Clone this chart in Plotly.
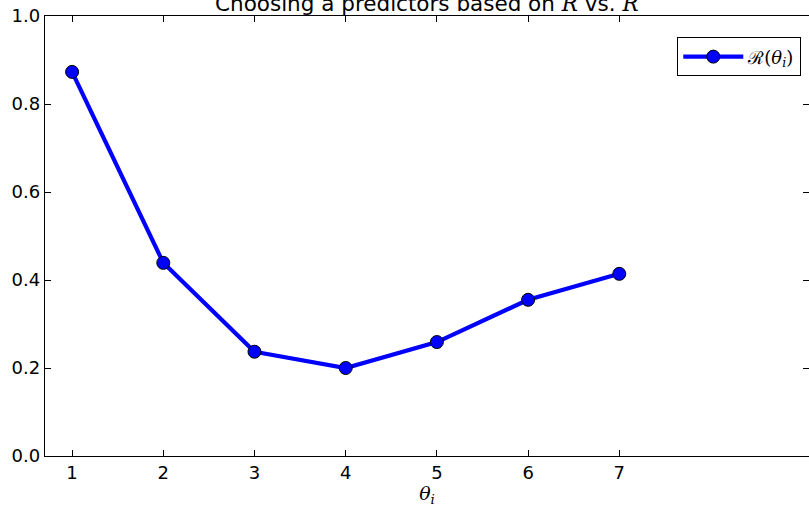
import plotly.graph_objects as go

theta_idx = [1, 2, 3, 4, 5, 6, 7]
risk_values = [0.873, 0.439, 0.237, 0.200, 0.259, 0.355, 0.414]
x_ticks = [1, 2, 3, 4, 5, 6, 7]
y_ticks = [0.0, 0.2, 0.4, 0.6, 0.8, 1.0]

W, H = 809, 507
L, R, T, B = 45, 0, 16, 51

fig = go.Figure()
fig.add_trace(go.Scatter(
    x=theta_idx, y=risk_values, mode="lines+markers",
    name="ℛ(<i>θ</i><sub><i>i</i></sub>)",
    line=dict(color="#0000ff", width=4.2),
    marker=dict(size=13, color="#0000ff", line=dict(color="black", width=1)),
))
# invisible trace to carry the right-side y ticks
fig.add_trace(go.Scatter(x=[theta_idx[0]], y=[risk_values[0]], yaxis="y2",
                         mode="markers", marker=dict(opacity=0),
                         showlegend=False, hoverinfo="skip"))

axis_font = dict(family="DejaVu Sans", size=18, color="black")
fig.update_layout(
    width=W, height=H,
    margin=dict(l=L, r=R, t=T, b=B),
    plot_bgcolor="white", paper_bgcolor="white",
    showlegend=True,
    legend=dict(x=0.9895, y=0.952, xanchor="right", yanchor="top",
                bgcolor="white", bordercolor="black", borderwidth=1.3,
                itemwidth=60,
                font=dict(family="DejaVu Serif", size=18, color="black")),
    xaxis=dict(range=[0.703, 9.08], tickvals=x_ticks, ticks="inside", ticklen=6,
               tickcolor="black", showline=True, linecolor="black", linewidth=1.3,
               mirror="ticks", showgrid=False, zeroline=False, tickfont=axis_font,
               title=dict(text="<i>θ</i><sub><i>i</i></sub>",
                          font=dict(family="DejaVu Serif", size=19, color="black"),
                          standoff=4)),
    yaxis=dict(range=[0, 1], tickvals=y_ticks, tickformat=".1f", ticks="inside",
               ticklen=6, tickcolor="black", showline=True, linecolor="black",
               linewidth=1.3, mirror=False, showgrid=False, zeroline=False,
               tickfont=axis_font),
    yaxis2=dict(range=[0, 1], tickvals=y_ticks, overlaying="y", side="right",
                ticks="inside", ticklen=6, tickcolor="black", showticklabels=False,
                showline=False, showgrid=False, zeroline=False),
    annotations=[dict(text="Choosing a predictors based on "
                           "<span style='font-family:DejaVu Serif'><i>R̂</i></span> vs. "
                           "<span style='font-family:DejaVu Serif'><i>R</i></span>",
                      xref="paper", yref="paper", x=0.5, y=1, xanchor="center",
                      yanchor="bottom", yshift=-2, showarrow=False,
                      font=dict(family="DejaVu Sans", size=21.5, color="black"))],
)

fig.write_html("out.html", config={"displayModeBar": False},
               post_script="document.body.style.margin='0';")
